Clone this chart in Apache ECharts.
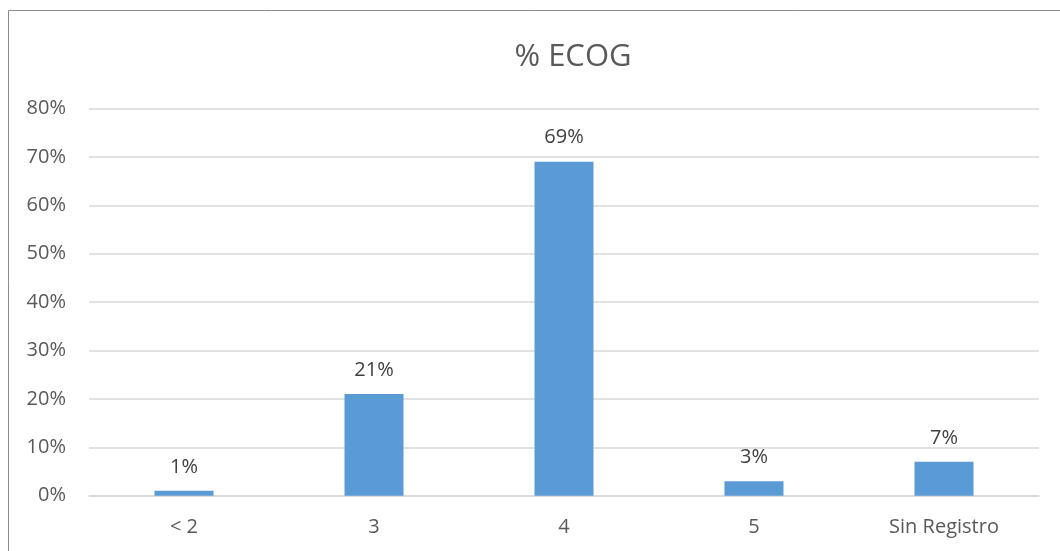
<!DOCTYPE html>
<html>
<head>
<meta charset="utf-8">
<style>
  html, body { margin: 0; padding: 0; background: #fff; }
  #chart { width: 1060px; height: 551px; }
</style>
<script src="https://cdn.jsdelivr.net/npm/echarts@6/dist/echarts.min.js"></script>
</head>
<body>
<div id="chart"></div>
<script>
// ECOG performance status distribution
const categories = ['< 2', '3', '4', '5', 'Sin Registro'];
const percentages = [1, 21, 69, 3, 7];
const yTicks = [0, 10, 20, 30, 40, 50, 60, 70, 80];

const chart = echarts.init(document.getElementById('chart'), null, { renderer: 'canvas' });

const font = '"Open Sans", "Liberation Sans", sans-serif';

chart.setOption({
  animation: false,
  backgroundColor: '#ffffff',
  title: {
    text: '% ECOG',
    left: 568,
    top: 37,
    textAlign: 'center',
    textStyle: { fontFamily: font, fontSize: 31, fontWeight: 'normal', color: '#595959' }
  },
  graphic: [{
    type: 'rect',
    shape: { x: 8.5, y: 10.5, width: 1200, height: 700 },
    style: { fill: 'none', stroke: '#8c8c8c', lineWidth: 1 },
    silent: true
  }],
  grid: { left: 89, right: 21, top: 108.5, bottom: 55.3, containLabel: false },
  xAxis: {
    type: 'category',
    data: categories,
    axisLine: { show: true, lineStyle: { color: '#d9d9d9', width: 1.5 } },
    axisTick: { show: false },
    axisLabel: { fontFamily: font, fontSize: 20, color: '#595959', margin: 22 }
  },
  yAxis: {
    type: 'value',
    min: yTicks[0],
    max: yTicks[yTicks.length - 1],
    interval: 10,
    axisLine: { show: false },
    axisTick: { show: false },
    splitLine: { lineStyle: { color: '#d9d9d9', width: 1.5 } },
    axisLabel: {
      fontFamily: font, fontSize: 20, color: '#595959', margin: 23,
      formatter: v => v + '%'
    }
  },
  series: [{
    type: 'bar',
    data: percentages,
    barWidth: 59,
    itemStyle: { color: '#5b9bd5' },
    label: {
      show: true,
      position: 'top',
      distance: 14,
      fontFamily: font,
      fontSize: 20,
      color: '#404040',
      formatter: p => p.value + '%'
    }
  }]
});
</script>
</body>
</html>
